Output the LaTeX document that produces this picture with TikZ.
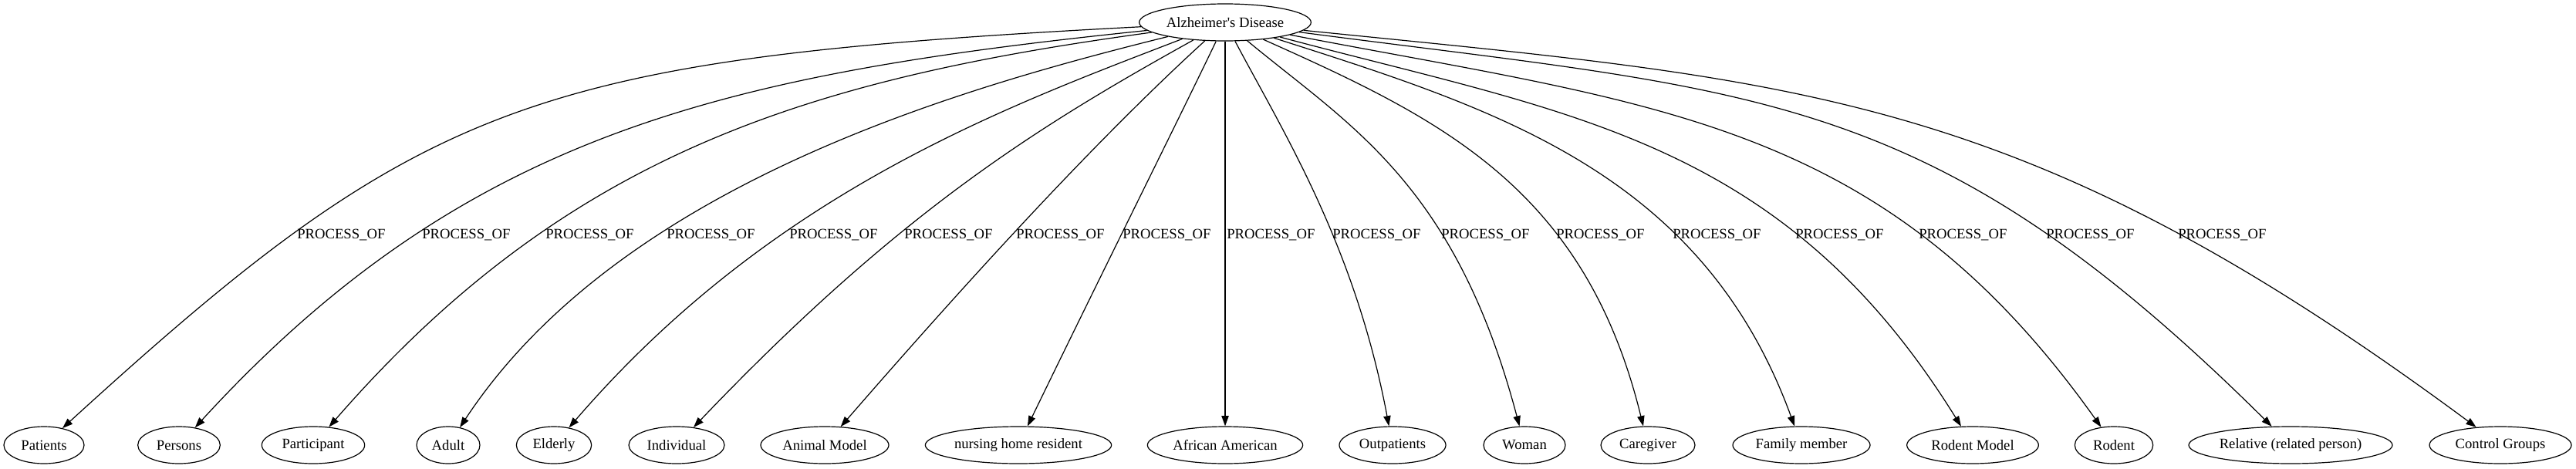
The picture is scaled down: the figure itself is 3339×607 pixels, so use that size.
\documentclass[tikz,border=0pt]{standalone}
\usepackage{fontspec}
\setmainfont{Liberation Serif}
\usetikzlibrary{shapes.geometric,arrows.meta}
\tikzset{
  entity/.style={draw, ellipse, line width=0.9pt, minimum height=36pt, inner sep=0pt, font=\fontsize{14}{17}\selectfont},
  rel/.style={line width=0.9pt, -{Triangle[length=10pt,width=7pt]}},
  relname/.style={anchor=base west, inner sep=0pt, font=\fontsize{14}{17}\selectfont}
}

\begin{document}
\begin{tikzpicture}[x=0.75pt,y=-0.75pt]
\useasboundingbox (0,0) rectangle (3339,607);
\node[entity, minimum width=167pt] (ad) at (1588,29) {Alzheimer\textquotesingle s Disease};
\node[entity, minimum width=78pt] (patients) at (57,577) {Patients};
\node[entity, minimum width=80pt] (persons) at (232,577) {Persons};
\node[entity, minimum width=100pt] (participant) at (406,577) {Participant};
\node[entity, minimum width=61.5pt] (adult) at (581,577) {Adult};
\node[entity, minimum width=73pt] (elderly) at (718,577) {Elderly};
\node[entity, minimum width=93pt] (individual) at (877,577) {Individual};
\node[entity, minimum width=124.5pt] (animal) at (1069,577) {Animal Model};
\node[entity, minimum width=181pt] (nursing) at (1320,577) {nursing home resident};
\node[entity, minimum width=151pt] (african) at (1588,577) {African American};
\node[entity, minimum width=103.5pt] (outpatients) at (1805,577) {Outpatients};
\node[entity, minimum width=79.5pt] (woman) at (1976,577) {Woman};
\node[entity, minimum width=91.5pt] (caregiver) at (2136,577) {Caregiver};
\node[entity, minimum width=133.5pt] (family) at (2335,577) {Family member};
\node[entity, minimum width=128pt] (rodentmodel) at (2557,577) {Rodent Model};
\node[entity, minimum width=76pt] (rodent) at (2740,577) {Rodent};
\node[entity, minimum width=198pt] (relative) at (2969,577) {Relative (related person)};
\node[entity, minimum width=138pt] (control) at (3241,577) {Control Groups};

\draw[rel] (ad) .. controls (690,76) and (550,127) .. (patients);
\draw[rel] (ad) .. controls (940,96) and (604,171) .. (persons);
\draw[rel] (ad) .. controls (1045,103) and (735,199) .. (participant);
\draw[rel] (ad) .. controls (1250,113) and (805,237) .. (adult);
\draw[rel] (ad) .. controls (1300,140) and (1001,249) .. (elderly);
\draw[rel] (ad) .. controls (1347,163) and (1167,273) .. (individual);
\draw[rel] (ad) .. controls (1452,153) and (1307,303) .. (animal);
\draw[rel] (ad) .. controls (1530,150) and (1440,330) .. (nursing);
\draw[rel] (ad) -- (african);
\draw[rel] (ad) .. controls (1662,169) and (1756,317) .. (outpatients);
\draw[rel] (ad) .. controls (1748,162) and (1886,237) .. (woman);
\draw[rel] (ad) .. controls (1865,153) and (2054,242) .. (caregiver);
\draw[rel] (ad) .. controls (1938,141) and (2206,223) .. (family);
\draw[rel] (ad) .. controls (2033,148) and (2310,179) .. (rodentmodel);
\draw[rel] (ad) .. controls (2150,137) and (2440,155) .. (rodent);
\draw[rel] (ad) .. controls (2280,120) and (2500,112) .. (relative);
\draw[rel] (ad) .. controls (2337,105) and (2619,117) .. (control);

\node[relname] (lpatients) at (385,309) {PROCESS\_OF};
\node[relname] (lpersons) at (547,309) {PROCESS\_OF};
\node[relname] (lparticipant) at (707,309) {PROCESS\_OF};
\node[relname] (ladult) at (864,309) {PROCESS\_OF};
\node[relname] (lelderly) at (1023,309) {PROCESS\_OF};
\node[relname] (lindividual) at (1172,309) {PROCESS\_OF};
\node[relname] (lanimal) at (1317,309) {PROCESS\_OF};
\node[relname] (lnursing) at (1455,309) {PROCESS\_OF};
\node[relname] (lafrican) at (1590,309) {PROCESS\_OF};
\node[relname] (loutpatients) at (1727,309) {PROCESS\_OF};
\node[relname] (lwoman) at (1868,309) {PROCESS\_OF};
\node[relname] (lcaregiver) at (2017,309) {PROCESS\_OF};
\node[relname] (lfamily) at (2168,309) {PROCESS\_OF};
\node[relname] (lrodentmodel) at (2327,309) {PROCESS\_OF};
\node[relname] (lrodent) at (2487,309) {PROCESS\_OF};
\node[relname] (lrelative) at (2652,309) {PROCESS\_OF};
\node[relname] (lcontrol) at (2823,309) {PROCESS\_OF};
\end{tikzpicture}
\end{document}
